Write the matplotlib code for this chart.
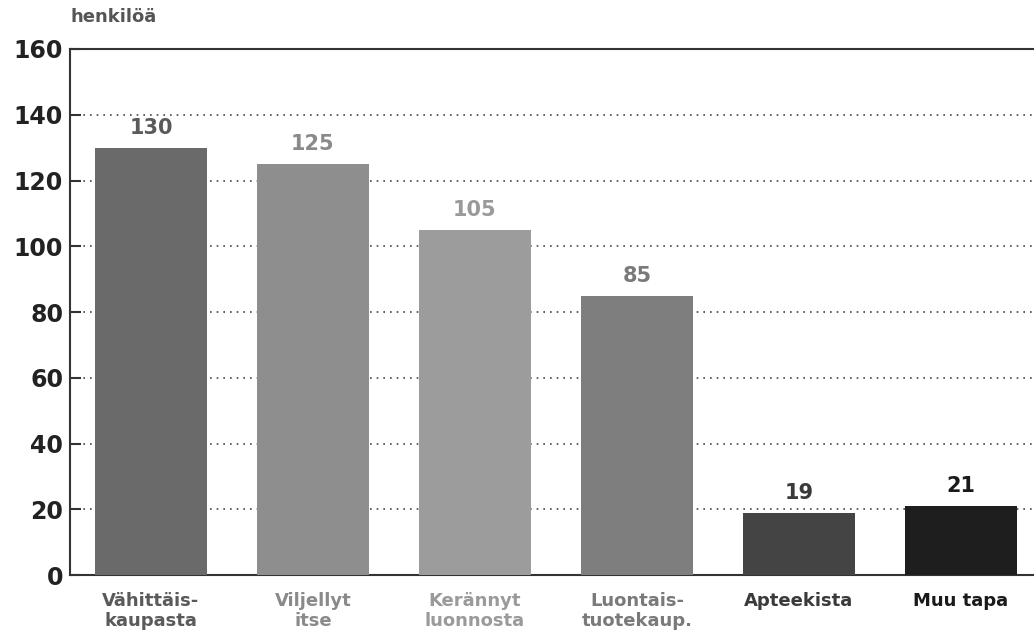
import matplotlib
matplotlib.use("Agg")
import matplotlib.pyplot as plt

categories = ["Vähittäis-\nkaupasta", "Viljellyt\nitse", "Kerännyt\nluonnosta",
              "Luontais-\ntuotekaup.", "Apteekista", "Muu tapa"]
values = [130, 125, 105, 85, 19, 21]
yticks = [0, 20, 40, 60, 80, 100, 120, 140, 160]
bar_colors = ["#6a6a6a", "#8e8e8e", "#9c9c9c", "#7e7e7e", "#444444", "#1e1e1e"]
text_colors = ["#5a5a5a", "#8a8a8a", "#9a9a9a", "#7a7a7a", "#3a3a3a", "#1a1a1a"]

plt.rcParams['font.family'] = ['DejaVu Sans']
fig = plt.figure(figsize=(10.34, 6.38), dpi=100)
ax = fig.add_axes([0.0677, 0.0987, 0.94, 0.8245])

x = list(range(len(categories)))
ax.bar(x, values, width=0.69, color=bar_colors, zorder=3)
for xi, v, c in zip(x, values, text_colors):
    ax.text(xi, v + 3, str(v), ha='center', va='bottom', fontsize=15,
            fontweight='bold', color=c, zorder=4)

ax.set_xlim(-0.5, 5.5)
ax.set_ylim(0, 160)
ax.set_yticks(yticks)
ax.set_yticklabels([str(t) for t in yticks], fontsize=17, fontweight='bold', color='#222222')
ax.set_xticks(x)
ax.set_xticklabels(categories, fontsize=13, fontweight='bold', linespacing=1.15)
for lbl, c in zip(ax.get_xticklabels(), text_colors):
    lbl.set_color(c)
ax.tick_params(axis='x', length=0, pad=12)
ax.tick_params(axis='y', direction='in', length=8, width=1.5, pad=5, color='#333333')

for yv in yticks[1:-1]:
    ax.axhline(yv, color='#444444', linestyle=(0, (1, 3)), linewidth=1.2, zorder=1)

for s in ['left', 'top', 'bottom']:
    ax.spines[s].set_linewidth(1.5)
    ax.spines[s].set_color('#333333')
ax.spines['right'].set_visible(False)

fig.text(0.0677, 0.96, "henkilöä", fontsize=13, fontweight='bold', color='#555555',
         ha='left', va='bottom')

fig.savefig("out.png", dpi=100)
